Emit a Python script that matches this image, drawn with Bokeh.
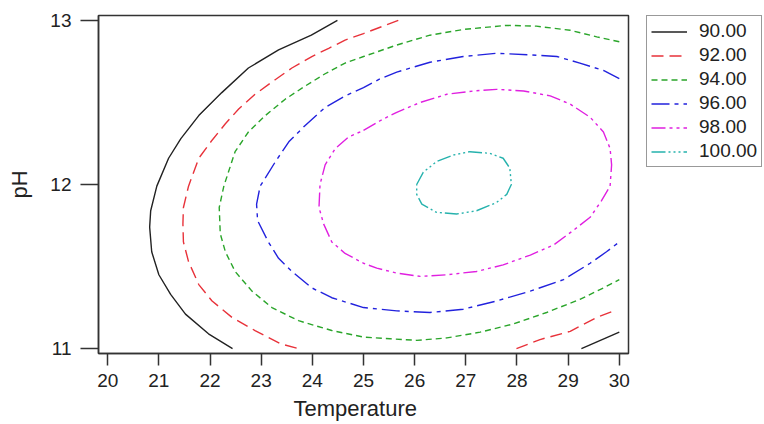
from bokeh.plotting import figure
from bokeh.models import Legend, LegendItem, FixedTicker, Range1d, Title
from bokeh.layouts import row
from bokeh.embed import file_html
from bokeh.resources import INLINE

# ---- data (Temperature, pH) ----
levels = ["90.00", "92.00", "94.00", "96.00", "98.00", "100.00"]
x_ticks = [20, 21, 22, 23, 24, 25, 26, 27, 28, 29, 30]
y_ticks = [11, 12, 13]

t90a = [24.49, 23.98, 23.34, 22.75, 22.23, 21.78, 21.43, 21.19, 20.96, 20.84, 20.82,
        20.86, 21.00, 21.23, 21.52, 21.97, 22.44]
ph90a = [13.00, 12.91, 12.82, 12.71, 12.56, 12.42, 12.28, 12.16, 11.99, 11.84, 11.74,
         11.59, 11.45, 11.33, 11.21, 11.09, 11.00]
t90b = [29.26, 30.00]
ph90b = [11.00, 11.10]

t92a = [25.68, 25.00, 24.64, 24.32, 23.99, 23.60, 23.28, 22.88, 22.56, 22.30, 22.04,
        21.78, 21.58, 21.48, 21.47, 21.48, 21.58, 21.78, 22.04, 22.43, 22.88, 23.37, 23.73]
ph92a = [13.00, 12.92, 12.88, 12.83, 12.78, 12.71, 12.64, 12.55, 12.46, 12.37, 12.27,
         12.16, 11.99, 11.86, 11.76, 11.65, 11.53, 11.39, 11.29, 11.19, 11.11, 11.03, 11.00]
t92b = [27.99, 28.45, 29.04, 29.56, 29.90]
ph92b = [11.00, 11.055, 11.105, 11.19, 11.23]

t94 = [30.00, 29.56, 29.04, 28.38, 27.80, 26.95, 26.30, 25.65, 25.00, 24.64, 24.25,
       23.86, 23.47, 23.08, 22.75, 22.49, 22.27, 22.18, 22.20, 22.30, 22.49, 22.82,
       23.21, 23.73, 24.38, 25.00, 25.52, 26.04, 26.63, 27.28, 27.93, 28.58, 29.23,
       29.69, 30.00]
ph94 = [12.87, 12.90, 12.94, 12.965, 12.97, 12.945, 12.91, 12.85, 12.78, 12.74, 12.675,
        12.60, 12.52, 12.42, 12.32, 12.20, 11.99, 11.86, 11.70, 11.59, 11.47, 11.35,
        11.25, 11.17, 11.11, 11.07, 11.06, 11.05, 11.065, 11.10, 11.15, 11.22, 11.30,
        11.37, 11.42]

t96 = [30.00, 29.69, 29.23, 28.78, 28.26, 27.60, 26.95, 26.30, 25.65, 25.33, 25.00,
       24.64, 24.25, 23.86, 23.54, 23.28, 22.98, 22.91, 22.93, 23.14, 23.34, 23.60,
       23.99, 24.38, 25.00, 25.65, 26.30, 26.95, 27.60, 28.26, 28.91, 29.43, 29.75, 30.00]
ph96 = [12.645, 12.695, 12.74, 12.78, 12.79, 12.80, 12.78, 12.745, 12.685, 12.645, 12.59,
        12.54, 12.47, 12.36, 12.26, 12.14, 11.99, 11.88, 11.78, 11.65, 11.55, 11.47,
        11.37, 11.31, 11.25, 11.23, 11.22, 11.24, 11.29, 11.35, 11.42, 11.52, 11.59, 11.65]

t98 = [25.00, 25.33, 25.65, 26.11, 26.63, 27.15, 27.60, 28.13, 28.65, 29.04, 29.43,
       29.69, 29.82, 29.85, 29.82, 29.65, 29.43, 29.10, 28.71, 28.26, 27.73, 27.21,
       26.63, 26.11, 25.65, 25.26, 25.00, 24.64, 24.38, 24.22, 24.13, 24.15, 24.25,
       24.45, 24.71, 25.00]
ph98 = [12.33, 12.39, 12.44, 12.50, 12.55, 12.57, 12.58, 12.57, 12.54, 12.49, 12.41,
        12.32, 12.22, 12.12, 11.99, 11.90, 11.80, 11.72, 11.63, 11.57, 11.51, 11.47,
        11.45, 11.44, 11.46, 11.49, 11.52, 11.58, 11.65, 11.76, 11.86, 12.00, 12.12,
        12.22, 12.29, 12.33]

t100 = [26.04, 26.17, 26.43, 26.76, 27.08, 27.47, 27.73, 27.86, 27.89, 27.80, 27.60,
        27.21, 26.82, 26.43, 26.14, 26.04, 26.04]
ph100 = [12.00, 12.075, 12.14, 12.18, 12.20, 12.19, 12.16, 12.10, 12.00, 11.94, 11.89,
         11.84, 11.82, 11.83, 11.88, 11.94, 12.00]

FONT = "Liberation Sans"
TXT = "#222222"

p = figure(width=630, height=424, output_backend="svg", toolbar_location=None,
           x_range=Range1d(19.82, 30.18), y_range=Range1d(10.97, 13.03),
           min_border_left=98, min_border_right=2, min_border_top=15,
           min_border_bottom=71)
p.xgrid.visible = False
p.ygrid.visible = False
p.outline_line_color = "#333333"
p.outline_line_width = 1.5
p.background_fill_color = "white"
p.border_fill_color = "white"

for ax in (p.xaxis[0], p.yaxis[0]):
    ax.axis_line_color = "#333333"
    ax.axis_line_width = 1.5
    ax.major_tick_line_color = "#333333"
    ax.major_tick_line_width = 1.5
    ax.major_tick_in = 0
    ax.minor_tick_line_color = None
    ax.major_label_text_font = FONT
    ax.major_label_text_font_size = "19px"
    ax.major_label_text_color = TXT
    ax.axis_label_text_font = FONT
    ax.axis_label_text_font_size = "22px"
    ax.axis_label_text_font_style = "normal"
    ax.axis_label_text_color = TXT

p.xaxis.ticker = FixedTicker(ticks=x_ticks)
p.yaxis.ticker = FixedTicker(ticks=y_ticks)
p.xaxis.major_tick_out = 12
p.yaxis.major_tick_out = 18
p.xaxis.major_label_standoff = 8
p.yaxis.major_label_standoff = 9
p.yaxis.axis_label = "pH"
p.yaxis.axis_label_standoff = 15

xt = Title(text="Temperature", align="left", offset=195, standoff=8,
           text_font=FONT, text_font_size="22px", text_font_style="normal",
           text_color=TXT)
p.add_layout(xt, "below")

styles = [
    ("#222222", "solid"),
    ("#e8323a", "12 6"),
    ("#2aa52a", "6 4"),
    ("#2222dd", "18 5 4 5"),
    ("#e020e0", "14 4 3 4 3 4"),
    ("#26b2ad", "14 3 2 3 2 3 2 3"),
]
series = [
    [(t90a, ph90a), (t90b, ph90b)],
    [(t92a, ph92a), (t92b, ph92b)],
    [(t94, ph94)],
    [(t96, ph96)],
    [(t98, ph98)],
    [(t100, ph100)],
]

for (col, dash), segs in zip(styles, series):
    for xs, ys in segs:
        p.line(xs, ys, line_color=col, line_width=1.4, line_dash=dash)

# legend panel (its own figure, same series drawn out of view to feed the legend)
q = figure(width=134, height=424, output_backend="svg", toolbar_location=None,
           x_range=Range1d(0, 1), y_range=Range1d(0, 1),
           min_border_left=16, min_border_right=0, min_border_top=15,
           min_border_bottom=0)
q.axis.visible = False
q.xgrid.visible = False
q.ygrid.visible = False
q.outline_line_color = None
q.background_fill_color = "white"
q.border_fill_color = "white"

items = []
for lab, (col, dash), segs in zip(levels, styles, series):
    xs, ys = segs[0]
    r = q.line(xs, ys, line_color=col, line_width=1.4, line_dash=dash)
    items.append(LegendItem(label=lab, renderers=[r]))

legend = Legend(items=items, location="top_left", margin=0, padding=4, spacing=2,
                glyph_width=36, glyph_height=21, label_height=21,
                label_standoff=12, label_text_font=FONT, label_text_font_size="19px",
                label_text_color=TXT,
                border_line_color="#333333", border_line_width=1.5,
                background_fill_alpha=1.0)
q.add_layout(legend, "center")

layout = row(p, q)
open("out.html", "w").write(file_html(layout, INLINE))
